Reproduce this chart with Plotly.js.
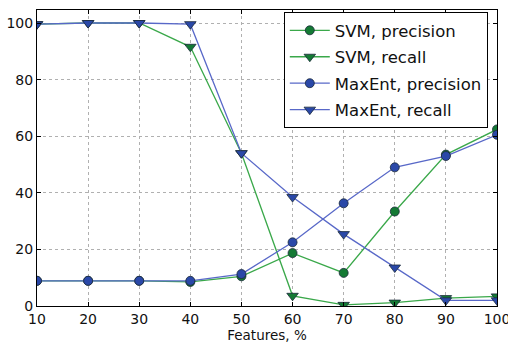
<!DOCTYPE html>
<html>
<head>
<meta charset="utf-8">
<script src="https://cdn.plot.ly/plotly-3.0.1.min.js"></script>
<style>html,body{margin:0;padding:0;background:#fff;}#chart{width:508px;height:345px;}</style>
</head>
<body>
<div id="chart"></div>
<script>
const features = [10, 20, 30, 40, 50, 60, 70, 80, 90, 100];
const svmPrecision = [8.9, 8.9, 8.9, 8.5, 10.5, 18.7, 11.7, 33.4, 53.5, 62.4];
const svmRecall = [99.6, 100, 100, 91.6, 54, 3.6, 0.4, 1.2, 2.8, 3.4];
const maxentPrecision = [8.9, 8.9, 8.9, 8.9, 11.3, 22.5, 36.3, 49, 53, 60.5];
const maxentRecall = [99.6, 100, 100, 99.6, 54, 38.5, 25.4, 13.6, 2, 2];

const greenLine = '#3aa84a', greenMark = '#147a34';
const blueLine = '#5868c8', blueMark = '#2a48a8';

function tr(name, y, lc, mc, sym) {
  return {x: features, y: y, name: name, legendgroup: name, mode: 'lines+markers', type: 'scatter',
    line: {color: lc, width: 1.3},
    marker: {color: mc, symbol: sym, size: sym === 'circle' ? 9 : 10, line: {color: '#1a2a3a', width: 0.8}}};
}
const data = [
  tr('SVM, precision', svmPrecision, greenLine, greenMark, 'circle'),
  tr('SVM, recall', svmRecall, greenLine, greenMark, 'triangle-down'),
  tr('MaxEnt, precision', maxentPrecision, blueLine, blueMark, 'circle'),
  tr('MaxEnt, recall', maxentRecall, blueLine, blueMark, 'triangle-down')
];
const axisCommon = {showline: true, linecolor: '#000', linewidth: 1, mirror: 'ticks', ticks: 'inside', ticklen: 4, tickcolor: '#000',
  showgrid: true, gridcolor: '#b0b0b0', griddash: 'dot', gridwidth: 1, zeroline: false, ticklabeloverflow: 'allow',
  tickfont: {family: 'DejaVu Sans', size: 14, color: '#111'}};
const layout = {
  width: 508, height: 345,
  margin: {l: 37, r: 11, t: 10, b: 39},
  paper_bgcolor: '#fff', plot_bgcolor: '#fff',
  showlegend: true,
  legend: {x: 0.98, y: 0.993, xanchor: 'right', yanchor: 'top', bgcolor: '#fff', bordercolor: '#000', borderwidth: 1,
    font: {family: 'DejaVu Sans', size: 16.5, color: '#111'}, tracegroupgap: 2, itemwidth: 40},
  xaxis: Object.assign({}, axisCommon, {range: [10, 100], tickvals: features, ticktext: features.map(String),
    title: {text: 'Features, %', font: {family: 'DejaVu Sans', size: 13.5, color: '#111'}, standoff: 3}}),
  yaxis: Object.assign({}, axisCommon, {range: [0, 104.6], tickvals: [0, 20, 40, 60, 80, 100]})
};
Plotly.newPlot('chart', data, layout, {displayModeBar: false, staticPlot: true});
</script>
</body>
</html>
